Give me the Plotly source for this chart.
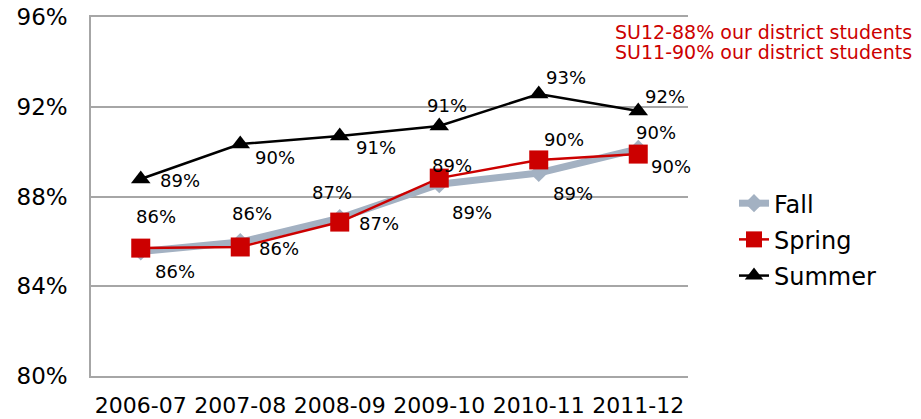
import plotly.graph_objects as go

years = ["2006-07", "2007-08", "2008-09", "2009-10", "2010-11", "2011-12"]
fall = [85.55, 85.97, 87.04, 88.55, 89.05, 90.12]
spring = [85.70, 85.75, 86.86, 88.82, 89.63, 89.89]
summer = [88.78, 90.34, 90.70, 91.14, 92.57, 91.81]
notes = ["SU12-88% our district students", "SU11-90% our district students"]

# label pixel offsets (dx, dy) relative to each marker (dy positive = down)
fall_off = [(15, -35), (12, -29), (-8, -26), (33, 28), (34, 21), (18, -16)]
spring_off = [(34, 23), (39, 2), (39, 1), (13, -13), (25, -20), (33, 12)]
summer_off = [(39, 1), (35, 13), (36, 12), (8, -21), (27, -16), (27, -15)]

FONT = "DejaVu Sans"
fig = go.Figure()
fig.add_trace(go.Scatter(x=years, y=fall, name="Fall", mode="lines+markers",
                         line=dict(color="#a3b1c2", width=7),
                         marker=dict(symbol="diamond", size=14, color="#a3b1c2"),
                         legendgroup="a"))
fig.add_trace(go.Scatter(x=years, y=spring, name="Spring", mode="lines+markers",
                         line=dict(color="#cc0000", width=2.5),
                         marker=dict(symbol="square", size=19, color="#cc0000"),
                         legendgroup="b"))
fig.add_trace(go.Scatter(x=years, y=summer, name="Summer", mode="lines+markers",
                         line=dict(color="#000000", width=2.5),
                         marker=dict(symbol="triangle-up", size=17, color="#000000"),
                         legendgroup="c"))

for vals, offs in ((fall, fall_off), (spring, spring_off), (summer, summer_off)):
    for x, v, (dx, dy) in zip(years, vals, offs):
        fig.add_annotation(x=x, y=v, text=f"{round(v)}%", showarrow=False,
                           xanchor="center", yanchor="middle",
                           xshift=dx, yshift=-dy,
                           font=dict(family=FONT, size=18, color="#000000"))

for i, t in enumerate(notes):
    fig.add_annotation(xref="paper", yref="paper", x=1.0 + 226 / 597, y=(359 - 15 - 20 * i) / 359,
                       text=t, showarrow=False, xanchor="right", yanchor="middle",
                       font=dict(family=FONT, size=19, color="#cc0000"))

fig.update_layout(
    width=913, height=411,
    margin=dict(l=83, r=233, t=9, b=43, autoexpand=False),
    paper_bgcolor="white", plot_bgcolor="white",
    font=dict(family=FONT, color="#000000"),
    showlegend=True,
    legend=dict(x=1.0 + 46 / 597, xanchor="left", y=0.38, yanchor="middle",
                font=dict(family=FONT, size=24), tracegroupgap=2,
                bgcolor="rgba(0,0,0,0)"),
    xaxis=dict(type="category", showgrid=False, showline=True, mirror=True,
               linecolor="#a6a6a6", linewidth=1.5, ticks="",
               tickfont=dict(family=FONT, size=22),
               ticklabelstandoff=9, range=[-0.5, 5.5], automargin=False),
    yaxis=dict(range=[80, 96], dtick=4, tick0=80, ticksuffix="%", showgrid=True,
               gridcolor="#a6a6a6", gridwidth=1.5, showline=True, linecolor="#a6a6a6",
               linewidth=1.5, ticks="", tickfont=dict(family=FONT, size=23),
               ticklabelstandoff=17, ticklabeloverflow="allow",
               zeroline=False, automargin=False),
)
fig.write_html("out.html")
